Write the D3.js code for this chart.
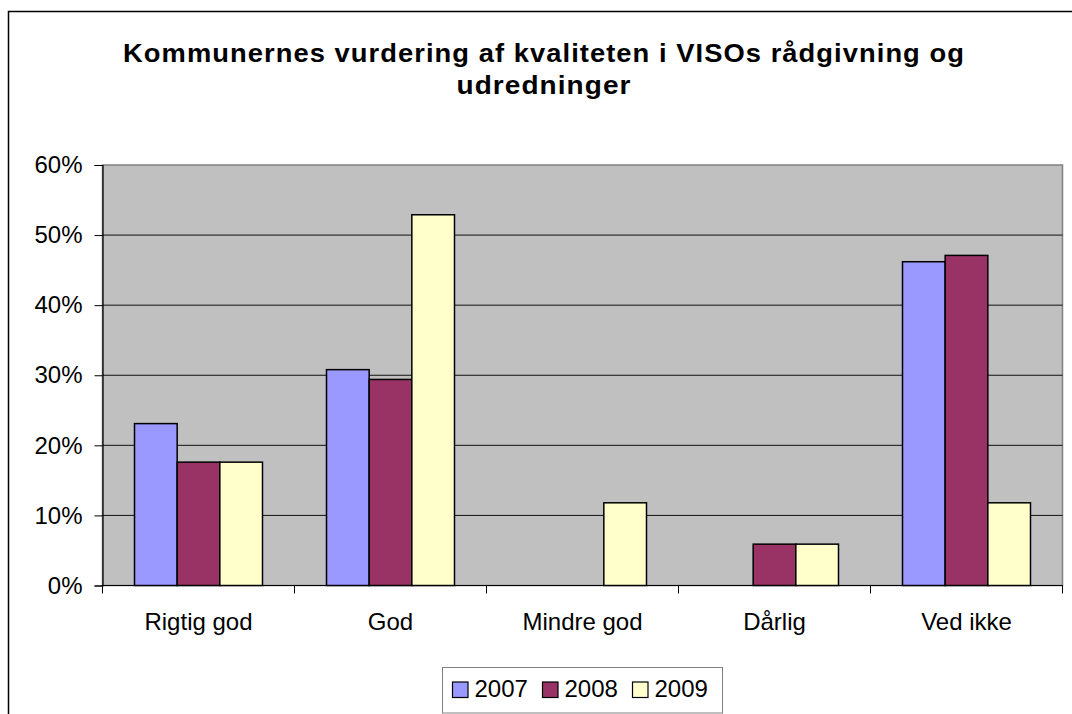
<!DOCTYPE html>
<html>
<head>
<meta charset="utf-8">
<script src="https://cdn.jsdelivr.net/npm/d3@7"></script>
<style>
  body { margin: 0; background: #fff; }
  svg { display: block; font-family: "Liberation Sans", Arial, sans-serif; }
</style>
</head>
<body>
<div id="chart"></div>
<script>
// data
var categories = ["Rigtig god", "God", "Mindre god", "Dårlig", "Ved ikke"];
var years = ["2007", "2008", "2009"];
var values2007 = [0.231, 0.308, 0, 0, 0.462];
var values2008 = [0.176, 0.294, 0, 0.059, 0.471];
var values2009 = [0.176, 0.529, 0.118, 0.059, 0.118];
var yTicks = [0, 0.1, 0.2, 0.3, 0.4, 0.5, 0.6];
var titleLines = ["Kommunernes vurdering af kvaliteten i VISOs rådgivning og", "udredninger"];

var colors = { "2007": "#9999FF", "2008": "#993366", "2009": "#FFFFCC" };
var series = { "2007": values2007, "2008": values2008, "2009": values2009 };

var W = 1072, H = 714;
var plot = { left: 102.5, right: 1062.5, top: 165, bottom: 585.5 };

var svg = d3.select("#chart").append("svg")
  .attr("width", W)
  .attr("height", H);

// outer chart border (runs off the right and bottom edge)
svg.append("rect")
  .attr("x", 8.5).attr("y", 11.5)
  .attr("width", W + 20).attr("height", H + 20)
  .attr("fill", "#fff")
  .attr("stroke", "#000")
  .attr("stroke-width", 1.5);

// title - fit each line to the width it has in the original
var lineY = [62, 94];
var lineW = [842, 175];
svg.append("g")
  .selectAll("text")
  .data(titleLines)
  .enter().append("text")
  .attr("x", 544)
  .attr("y", function (d, i) { return lineY[i]; })
  .attr("text-anchor", "middle")
  .attr("textLength", function (d, i) { return lineW[i]; })
  .attr("lengthAdjust", "spacingAndGlyphs")
  .style("font-size", "26px")
  .style("font-weight", "bold")
  .style("letter-spacing", "1px")
  .text(function (d) { return d; });

// scales
var x0 = d3.scaleBand()
  .domain(categories)
  .range([plot.left, plot.right]);

var band = x0.bandwidth();
var x1 = d3.scaleBand()
  .domain(years)
  .range([band / 6, band * 5 / 6]);

var y = d3.scaleLinear()
  .domain([0, 0.6])
  .range([plot.bottom, plot.top]);

// plot background
svg.append("rect")
  .attr("x", plot.left).attr("y", plot.top)
  .attr("width", plot.right - plot.left)
  .attr("height", plot.bottom - plot.top)
  .attr("fill", "#C0C0C0")
  .attr("stroke", "#808080")
  .attr("stroke-width", 1.5);

// gridlines
svg.append("g")
  .selectAll("line")
  .data(yTicks.filter(function (d) { return d > 0 && d < 0.6; }))
  .enter().append("line")
  .attr("x1", plot.left).attr("x2", plot.right)
  .attr("y1", function (d) { return y(d); })
  .attr("y2", function (d) { return y(d); })
  .attr("stroke", "#111")
  .attr("stroke-width", 1);

// bars
var groups = svg.append("g")
  .selectAll("g")
  .data(categories)
  .enter().append("g")
  .attr("transform", function (d) { return "translate(" + x0(d) + ",0)"; });

groups.selectAll("rect")
  .data(function (c, i) {
    return years
      .map(function (yr) { return { year: yr, value: series[yr][i] }; })
      .filter(function (d) { return d.value > 0; });
  })
  .enter().append("rect")
  .attr("x", function (d) { return x1(d.year); })
  .attr("y", function (d) { return y(d.value); })
  .attr("width", x1.bandwidth())
  .attr("height", function (d) { return y(0) - y(d.value); })
  .attr("fill", function (d) { return colors[d.year]; })
  .attr("stroke", "#000")
  .attr("stroke-width", 1.5);

// y axis
var yAxis = d3.axisLeft(y)
  .tickValues(yTicks)
  .tickFormat(d3.format(".0%"))
  .tickSize(8)
  .tickPadding(12);

var gy = svg.append("g")
  .attr("transform", "translate(" + plot.left + ",0)")
  .call(yAxis);
gy.select(".domain").attr("stroke", "#000").attr("stroke-width", 1.2);
gy.selectAll(".tick line").attr("stroke", "#000");
gy.selectAll("text")
  .style("font-size", "24px")
  .style("font-family", "'Liberation Sans', Arial, sans-serif")
  .attr("fill", "#000");

// x axis: ticks at category boundaries
var boundaries = categories.map(function (c) { return x0(c); }).concat([plot.right]);
var gx = svg.append("g");
gx.append("line")
  .attr("x1", plot.left).attr("x2", plot.right)
  .attr("y1", plot.bottom).attr("y2", plot.bottom)
  .attr("stroke", "#000").attr("stroke-width", 1.2);
gx.selectAll("line.tk")
  .data(boundaries)
  .enter().append("line")
  .attr("class", "tk")
  .attr("x1", function (d) { return d; })
  .attr("x2", function (d) { return d; })
  .attr("y1", plot.bottom)
  .attr("y2", plot.bottom + 8)
  .attr("stroke", "#000");
gx.selectAll("text")
  .data(categories)
  .enter().append("text")
  .attr("x", function (d) { return x0(d) + band / 2; })
  .attr("y", 630)
  .attr("text-anchor", "middle")
  .style("font-size", "24px")
  .text(function (d) { return d; });

// legend
var legend = svg.append("g");
legend.append("rect")
  .attr("x", 442.5).attr("y", 667.5)
  .attr("width", 280).attr("height", 45.5)
  .attr("fill", "#fff")
  .attr("stroke", "#808080")
  .attr("stroke-width", 1);

var legendX = [452.5, 542.5, 632.5];
years.forEach(function (yr, i) {
  legend.append("rect")
    .attr("x", legendX[i]).attr("y", 682)
    .attr("width", 15.5).attr("height", 15.5)
    .attr("fill", colors[yr])
    .attr("stroke", "#000")
    .attr("stroke-width", 1.2);
  legend.append("text")
    .attr("x", legendX[i] + 22)
    .attr("y", 697)
    .style("font-size", "24px")
    .text(yr);
});
</script>
</body>
</html>
